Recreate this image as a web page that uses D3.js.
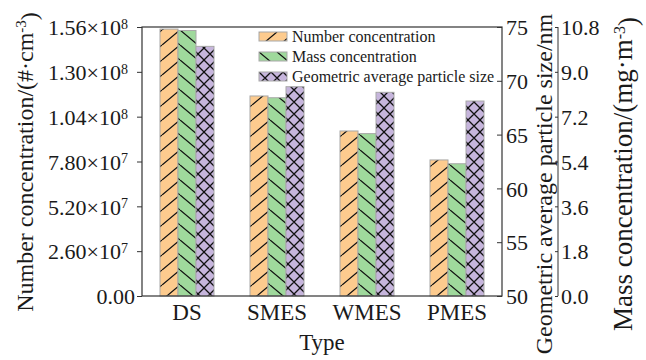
<!DOCTYPE html>
<html>
<head>
<meta charset="utf-8" />
<script src="https://cdn.jsdelivr.net/npm/d3@7"></script>
<style>
  body { margin: 0; background: #fff; }
  text { font-family: "Liberation Serif", "DejaVu Serif", serif; fill: #1a1a1a; }
</style>
</head>
<body>
<div id="my_dataviz"></div>
<script>
// data
const types = ["DS", "SMES", "WMES", "PMES"];
const numberConc = [1.548e8, 1.160e8, 0.957e8, 0.789e8];
const massConc = [10.66, 7.96, 6.52, 5.31];
const geoSize = [73.2, 69.45, 68.93, 68.12];

const numberTicks = [0, 2.6e7, 5.2e7, 7.8e7, 1.04e8, 1.30e8, 1.56e8];
const sizeTicks = [50, 55, 60, 65, 70, 75];
const massTicks = [0, 1.8, 3.6, 5.4, 7.2, 9.0, 10.8];
const seriesNames = ["Number concentration", "Mass concentration", "Geometric average particle size"];

const width = 646, height = 360;
const plotL = 142, plotR = 502, plotT = 27, plotB = 296;

const svg = d3.select("#my_dataviz")
    .append("svg")
    .attr("width", width)
    .attr("height", height);

// hatch patterns
const defs = svg.append("defs");
const hatches = [
    { id: "hNum", fill: "#fdcb8e", w: 18, h: 15, d: "M0,15L18,0M-18,15L0,0M18,15L36,0" },
    { id: "hMass", fill: "#9fd99c", w: 18, h: 15, d: "M0,0L18,15M-18,0L0,15M18,0L36,15" },
    { id: "hGeo", fill: "#c6b5dc", w: 12, h: 12, d: "M0,0L12,12M0,12L12,0M-6,6L0,0M12,12L18,6M-6,6L0,12M12,0L18,6" }
];
hatches.forEach(h => {
    const p = defs.append("pattern")
        .attr("id", h.id)
        .attr("patternUnits", "userSpaceOnUse")
        .attr("width", h.w)
        .attr("height", h.h);
    p.append("rect").attr("width", h.w).attr("height", h.h).attr("fill", h.fill);
    p.append("path").attr("d", h.d).attr("stroke", "#111").attr("stroke-width", 1.3).attr("fill", "none");
});

// scales
const x0 = d3.scaleBand().domain(types).range([plotL, plotR]).paddingInner(0.4).paddingOuter(0.2);
const x1 = d3.scaleBand().domain(seriesNames).range([0, x0.bandwidth()]);
const yNum = d3.scaleLinear().domain([0, 1.56e8]).range([plotB, plotT]);
const ySize = d3.scaleLinear().domain([50, 75]).range([plotB, plotT]);
const yMass = d3.scaleLinear().domain([0, 10.8]).range([plotB, plotT]);

const series = [
    { name: seriesNames[0], values: numberConc, scale: yNum, pat: "hNum" },
    { name: seriesNames[1], values: massConc, scale: yMass, pat: "hMass" },
    { name: seriesNames[2], values: geoSize, scale: ySize, pat: "hGeo" }
];

// bars
series.forEach(s => {
    svg.append("g").selectAll("rect")
        .data(types.map((t, i) => ({ t, v: s.values[i] })))
        .enter()
        .append("rect")
        .attr("x", d => x0(d.t) + x1(s.name))
        .attr("y", d => s.scale(d.v))
        .attr("width", x1.bandwidth())
        .attr("height", d => s.scale.range()[0] - s.scale(d.v))
        .attr("fill", `url(#${s.pat})`)
        .attr("stroke", "#a8a8a8")
        .attr("stroke-width", 1);
});

// frame
svg.append("rect")
    .attr("x", plotL).attr("y", plotT)
    .attr("width", plotR - plotL).attr("height", plotB - plotT)
    .attr("fill", "none").attr("stroke", "#333").attr("stroke-width", 1.2);

// superscript tick label helper
const sciLabel = (sel, v) => {
    if (v === 0) { sel.text("0.00"); return; }
    const e = Math.floor(Math.log10(v));
    const m = (v / Math.pow(10, e)).toFixed(2);
    sel.text(`${m}×10`);
    sel.append("tspan").attr("dy", "-0.45em").style("font-size", "14px").text(e);
};

const tickFont = "22px";

// left axis
const gLeft = svg.append("g")
    .attr("transform", `translate(${plotL},0)`)
    .call(d3.axisLeft(yNum).tickValues(numberTicks).tickSize(5).tickFormat(""));
gLeft.select(".domain").remove();
gLeft.selectAll("line").attr("stroke", "#333");
gLeft.selectAll(".tick text")
    .attr("x", d => d === 0 ? -7 : -14).attr("dy", "0.35em")
    .style("font-size", tickFont).attr("text-anchor", "end")
    .each(function (d) { sciLabel(d3.select(this), d); });

// right axis 1 (size)
const gSize = svg.append("g")
    .attr("transform", `translate(${plotR},0)`)
    .call(d3.axisRight(ySize).tickValues(sizeTicks).tickSize(-5));
gSize.select(".domain").remove();
gSize.selectAll("line").attr("stroke", "#333");
gSize.selectAll(".tick text").attr("x", 4).attr("dy", "0.35em").style("font-size", tickFont).attr("text-anchor", "start");

// right axis 2 (mass)
const axis2x = 558;
const gMass = svg.append("g")
    .attr("transform", `translate(${axis2x},0)`)
    .call(d3.axisRight(yMass).tickValues(massTicks).tickSize(-3).tickFormat(d3.format(".1f")));
gMass.select(".domain").attr("d", `M0,${plotT}V${plotB}`).attr("stroke", "#333");
gMass.selectAll("line").attr("stroke", "#333");
gMass.selectAll(".tick text").attr("x", 3).attr("dy", "0.35em").style("font-size", tickFont).attr("text-anchor", "start");

// x axis labels
const gX = svg.append("g")
    .attr("transform", `translate(0,${plotB})`)
    .call(d3.axisBottom(x0).tickSize(0));
gX.select(".domain").remove();
gX.selectAll(".tick text").attr("y", 24).attr("dy", 0).style("font-size", "23px");

// axis titles
svg.append("text")
    .attr("x", (plotL + plotR) / 2).attr("y", 350)
    .attr("text-anchor", "middle").style("font-size", "23px")
    .text("Type");

const leftTitle = svg.append("text")
    .attr("transform", "translate(33,162) rotate(-90)")
    .attr("text-anchor", "middle").style("font-size", "24px");
leftTitle.append("tspan").text("Number concentration/(#·cm");
leftTitle.append("tspan").attr("dy", "-0.45em").style("font-size", "15px").text("-3");
leftTitle.append("tspan").attr("dy", "0.45em").text(")");

svg.append("text")
    .attr("transform", "translate(552,184) rotate(-90)")
    .attr("text-anchor", "middle").style("font-size", "24px")
    .text("Geometric average particle size/nm");

const massTitle = svg.append("text")
    .attr("transform", "translate(632,174) rotate(-90)")
    .attr("text-anchor", "middle").style("font-size", "27px");
massTitle.append("tspan").text("Mass concentration/(mg·m");
massTitle.append("tspan").attr("dy", "-0.45em").style("font-size", "16px").text("-3");
massTitle.append("tspan").attr("dy", "0.45em").text(")");

// legend
const legend = svg.append("g").attr("transform", "translate(259,32)");
series.forEach((s, i) => {
    const row = legend.append("g").attr("transform", `translate(0,${i * 20})`);
    row.append("rect")
        .attr("width", 28).attr("height", 9)
        .attr("fill", `url(#${s.pat})`)
        .attr("stroke", "#a8a8a8");
    row.append("text")
        .attr("x", 33).attr("y", 10)
        .style("font-size", "16px")
        .text(s.name);
});
</script>
</body>
</html>
